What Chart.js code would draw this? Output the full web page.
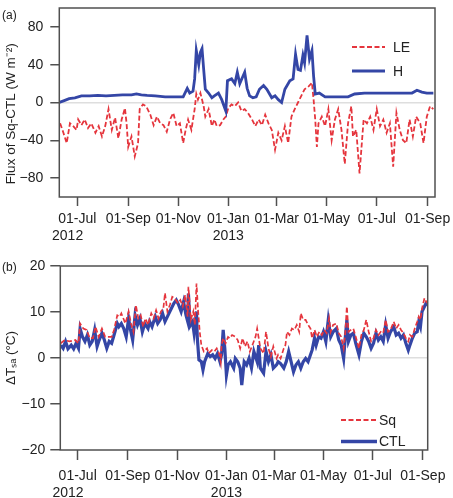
<!DOCTYPE html>
<html><head><meta charset="utf-8">
<script src="https://cdn.jsdelivr.net/npm/chart.js@4.4.0/dist/chart.umd.min.js"></script>
<style>
html,body{margin:0;padding:0;background:#fff;width:453px;height:498px;overflow:hidden}
.wrap{position:absolute;left:0;width:453px}
</style></head><body>
<div class="wrap" style="top:0;height:250px"><canvas id="ca" width="453" height="250"></canvas></div>
<div class="wrap" style="top:250px;height:248px"><canvas id="cb" width="453" height="248"></canvas></div>
<script>
// Day numbers counted from 2012-06-01 (day 0)
const tickDays = [30, 92, 153, 214, 273, 334, 395, 457];
const tickLabels = [["01-Jul","2012     "],["01-Sep"],["01-Nov"],["01-Jan","2013"],["01-Mar"],["01-May"],["01-Jul"],["01-Sep"]];
const fluxTicks = [-80, -40, 0, 40, 80];
const tempTicks = [-20, -10, 0, 10, 20];

// Panel (a): LE flux difference (Sq-CTL), W m-2
const leDays = [9,13,17,21,25,29,31,35,39,43,47,52,56,60,64,68,72,76,80,84,88,90,92,96,100,104,106,110,114,119,123,127,131,135,139,143,147,151,155,159,162,165,169,173,175,177,180,184,186,190,194,197,200,204,208,211,214,218,222,226,230,234,238,243,247,251,255,259,263,267,271,275,279,283,287,291,295,299,303,307,312,316,318,320,322,324,328,332,336,340,344,348,352,356,360,364,366,370,374,379,383,387,391,395,399,403,407,411,415,419,423,427,431,435,439,443,448,452,456,460,464];
const leVals = [-22,-32,-43,-22,-25,-29,-18,-24,-18,-27,-22,-32,-25,-36,-25,-7,-29,-16,-38,-18,-6,-22,-47,-36,-57,-43,-7,-2,-4,-13,-24,-15,-22,-24,-31,-18,-11,-25,-22,-43,-29,-18,-29,-7,9,3,10,-4,-15,-7,-25,-18,-25,-24,-18,-15,-6,-2,-4,0,-9,-7,-11,-18,-25,-18,-24,-13,-22,-29,-50,-32,-40,-25,-43,-15,-7,0,7,14,17,21,3,-18,-47,-22,-15,-25,-7,-40,-18,-7,-29,-65,-22,-4,-36,-29,-75,-18,-22,-15,-29,-7,-25,-18,-32,-22,-68,-11,-29,-40,-43,-18,-36,-15,-22,-43,-15,-4,-7];

// Panel (a): H flux difference (Sq-CTL), W m-2
const hDays = [8,14,20,27,35,45,55,65,75,85,96,102,108,115,125,137,150,159,164,167,171,173,175,178,180,182,184,186,190,194,197,202,206,211,213,218,222,225,228,232,234,237,240,244,248,252,257,261,267,271,275,279,283,289,293,296,299,302,305,307,310,313,316,318,320,325,332,340,350,360,368,380,395,410,425,438,444,450,456,464];
const hVals = [0,2,4,5,7,7,7.5,7,7.5,8,8,9,8,7.5,7,6,6,6,15,10,12,25,55,40,53,57,35,14,10,5,7,10,3,-9,23,25,20,32,20,28,32,15,7,5,6,14,18,14,5,7,3,0,14,23,25,51,35,34,50,42,71,46,55,28,9,10,6,6,6,6,9,10,10,10,10,10,13,11,10,10];

// Panel (b): Delta T_sa, Sq run (deg C)
const sqDays = [9,14,20,27,31,33,37,41,45,49,52,56,60,64,68,72,75,79,82,84,89,93,96,99,102,105,108,111,114,117,121,124,127,130,133,136,138,141,144,147,150,154,157,160,163,166,167,170,173,175,177,179,181,183,186,190,192,196,199,202,205,207,208,210,213,216,218,221,225,228,231,234,237,240,243,247,250,252,254,256,260,263,266,269,272,276,278,281,285,287,289,292,295,298,301,304,306,309,312,315,318,320,323,326,329,332,335,338,341,343,346,350,353,356,359,361,363,365,368,371,374,378,381,384,387,390,393,396,399,402,405,408,411,414,417,421,424,427,430,433,436,439,441,444,447,450,452,454,456,459,461,463];
const sqVals = [3.2,3.9,3.6,3.9,3.2,7.5,6.4,6.1,4.3,4.3,6.8,4.6,6.4,4.6,4.6,4.6,6.1,9.3,9.0,9.7,7.5,10.1,7.5,5.7,11.5,8.6,9.3,6.8,8.6,7.2,9.7,8.6,10.4,8.6,10.1,10.8,14.1,10.1,11.5,13.3,13.0,11.9,12.6,11.2,13.7,9.0,15.5,8.3,10.1,7.2,16.2,10.1,5.7,2.8,1.4,2.1,1.0,1.7,1.4,2.1,1.0,-1.0,2.8,4.3,3.2,4.6,4.3,5.0,4.6,3.9,2.1,4.3,2.5,3.6,1.4,3.2,4.6,6.4,4.3,2.1,1.0,5.7,2.1,0.3,2.5,-0.1,0.7,-0.1,2.1,2.8,5.7,5.0,6.4,6.1,7.2,5.7,9.7,8.3,8.3,7.2,6.4,4.3,6.1,4.6,5.7,5.0,6.1,5.4,8.6,5.7,7.2,7.5,5.4,4.6,2.1,5.4,11.2,5.7,6.1,6.4,4.6,2.1,5.0,6.1,8.3,5.7,3.6,4.3,6.1,5.0,5.7,5.4,8.3,5.7,6.1,7.9,6.4,7.2,6.1,5.4,4.3,3.6,5.0,4.6,6.4,7.9,9.0,8.3,10.8,13.0,12.3,11.9];

// Panel (b): Delta T_sa, CTL run (deg C)
const ctlDays = [9,12,15,18,22,25,28,31,33,36,39,42,45,48,51,54,56,60,63,66,69,72,75,79,81,84,87,90,93,95,98,101,104,107,110,113,117,119,122,126,129,132,135,138,141,144,146,149,152,155,158,161,164,166,167,169,172,174,177,178,180,183,185,187,191,194,197,200,203,206,208,210,212,214,216,219,223,225,228,231,233,236,239,242,245,248,252,254,256,260,263,266,269,272,276,278,281,285,288,291,294,297,300,303,306,309,312,315,318,320,323,325,328,331,334,337,340,343,346,350,353,356,359,361,363,365,368,371,374,378,381,384,387,390,393,396,399,402,405,408,411,414,417,421,424,427,430,433,436,439,441,444,447,450,452,454,456,459,461,463];
const ctlVals = [2.8,2.1,3.6,2.0,2.8,2.0,3.2,2.1,6.4,4.6,3.6,5.0,2.8,3.6,6.1,2.5,3.6,5.4,3.9,2.1,3.6,3.2,5.0,7.5,6.8,7.5,6.4,4.6,8.6,6.4,3.9,9.3,7.2,8.6,5.7,7.5,6.4,7.9,6.8,9.0,7.5,8.3,9.7,7.9,9.0,10.1,10.8,11.9,12.6,11.5,10.1,12.2,9.3,8.0,14.0,7.0,7.9,5.4,10.1,4.3,-0.4,-0.8,-2.6,-0.8,1.0,0.3,0.7,-0.1,1.0,-0.8,0.7,6.1,2.1,-3.7,-1.5,-0.8,-2.2,-0.1,-0.8,-2.2,-5.9,-0.8,-1.5,-0.1,-2.2,1.4,-0.8,2.8,-2.2,-3.3,1.4,-0.8,0.7,-2.2,-1.5,-0.8,-1.2,-2.2,-0.8,1.4,-0.8,-3.0,-1.5,-0.8,-2.2,-0.8,-0.1,-0.8,0.7,1.7,4.3,2.8,4.6,4.3,5.7,3.6,8.3,4.6,5.7,6.4,3.9,2.8,-0.1,4.3,8.3,3.6,5.0,5.4,3.2,0.7,3.6,5.4,4.6,3.6,2.1,3.2,5.4,3.9,4.6,3.6,7.2,4.3,5.7,6.8,5.0,5.4,4.3,5.0,3.2,1.7,2.8,4.3,5.4,5.7,7.9,6.8,10.1,11.2,11.9,11.5];

const FONT = '"Liberation Sans", Arial, Helvetica, sans-serif';
Chart.defaults.font.family = FONT;
Chart.defaults.color = '#222';

const RED = '#e5353d';
const BLUE = '#3446a6';
const FRAME = '#505050';

function pts(days, vals) { return days.map((d, i) => ({x: d, y: vals[i]})); }
function fmt(v) { return v < 0 ? '\u2212' + Math.abs(v) : String(v); }

const decor = {
  id: 'decor',
  afterDatasetsDraw(chart, args, o) {
    const ctx = chart.ctx, a = chart.chartArea;
    ctx.save();
    ctx.strokeStyle = FRAME; ctx.lineWidth = 1.5;
    ctx.strokeRect(a.left, a.top, a.right - a.left, a.bottom - a.top);
    ctx.fillStyle = '#222';
    ctx.textBaseline = 'middle'; ctx.textAlign = 'left';
    ctx.font = '12px ' + FONT;
    ctx.fillText(o.letter, o.letterX, o.letterY);
    o.order.forEach((i, k) => {
      const ds = chart.data.datasets[i];
      const y = o.legY[k];
      ctx.beginPath();
      ctx.strokeStyle = ds.borderColor;
      ctx.lineWidth = ds.borderWidth + (o.legExtra || 0);
      ctx.setLineDash(ds.borderDash || []);
      ctx.moveTo(o.legX1, y); ctx.lineTo(o.legX2, y); ctx.stroke();
      ctx.setLineDash([]);
      ctx.fillStyle = '#222';
      ctx.font = '14px ' + FONT;
      ctx.fillText(ds.label, o.legTextX, y + 1);
    });
    ctx.restore();
  }
};

function makeChart(id, cfg) {
  return new Chart(document.getElementById(id), {
    type: 'line',
    data: { datasets: cfg.datasets },
    options: {
      responsive: false, animation: false,
      layout: { padding: cfg.padding },
      elements: { point: { radius: 0 }, line: { tension: 0 } },
      plugins: { legend: { display: false }, tooltip: { enabled: false }, decor: cfg.decor },
      scales: {
        x: {
          type: 'linear', min: cfg.xmin, max: cfg.xmax,
          afterBuildTicks: ax => { ax.ticks = tickDays.map(v => ({value: v})); },
          afterFit: ax => { ax.height = cfg.xHeight; ax.paddingLeft = 0; ax.paddingRight = 0; },
          ticks: { autoSkip: false, maxRotation: 0, minRotation: 0, padding: cfg.xPad, font: { size: 14 }, color: '#222',
                   callback: v => tickLabels[tickDays.indexOf(v)] },
          grid: { drawOnChartArea: false, drawTicks: true, tickLength: cfg.xTick, tickColor: FRAME, tickWidth: 1.5, color: FRAME },
          border: { display: false }
        },
        y: {
          type: 'linear', min: cfg.ymin, max: cfg.ymax,
          afterBuildTicks: ax => { ax.ticks = cfg.yTicks.map(v => ({value: v})); },
          afterFit: ax => { ax.width = cfg.yWidth; ax.paddingTop = 0; ax.paddingBottom = 0; },
          ticks: { padding: cfg.yPad, font: { size: 14 }, color: '#222', callback: fmt },
          grid: { drawOnChartArea: true, drawTicks: true, tickLength: cfg.yTick, tickColor: FRAME, tickWidth: 1.5, lineWidth: 1.5,
                  color: c => (c.tick && c.tick.value === 0) ? '#dedede' : 'rgba(0,0,0,0)' },
          border: { display: false },
          title: { display: true, text: cfg.yTitle, font: { size: cfg.yTitleSize }, color: '#222', padding: { top: 3, bottom: 0 } }
        }
      }
    },
    plugins: [decor]
  });
}

makeChart('ca', {
  datasets: [
    { label: 'H', data: pts(hDays, hVals), borderColor: BLUE, borderWidth: 2.8 },
    { label: 'LE', data: pts(leDays, leVals), borderColor: RED, borderWidth: 1.8, borderDash: [5, 2.5] }
  ],
  padding: { top: 8, right: 18, left: 0, bottom: 0 },
  xmin: 8, xmax: 466, ymin: -100, ymax: 100, yTicks: fluxTicks,
  xHeight: 53, xPad: 5, xTick: 9, yWidth: 59.3, yPad: 7, yTick: 9,
  yTitle: 'Flux of Sq-CTL (W m\u207B\u00B2)      ', yTitleSize: 13.5,
  decor: { letter: '(a)', letterX: 2, letterY: 16, order: [1, 0], legY: [47, 71], legX1: 352, legX2: 385, legTextX: 393, legExtra: 0.2 }
});

makeChart('cb', {
  datasets: [
    { label: 'Sq', data: pts(sqDays, sqVals), borderColor: RED, borderWidth: 1.7, borderDash: [5, 2.5] },
    { label: 'CTL', data: pts(ctlDays, ctlVals), borderColor: BLUE, borderWidth: 3.2 }
  ],
  padding: { top: 16, right: 25.3, left: 0, bottom: 0 },
  xmin: 8.5, xmax: 463, ymin: -20, ymax: 20, yTicks: tempTicks,
  xHeight: 48, xPad: 8, xTick: 10, yWidth: 60.3, yPad: 5, yTick: 10,
  yTitle: '\u0394T\u209B\u2090 (\u00B0C)', yTitleSize: 13.5,
  decor: { letter: '(b)', letterX: 2, letterY: 18, order: [0, 1], legY: [170, 191.5], legX1: 341, legX2: 377, legTextX: 379, legExtra: 0.4 }
});
</script>
</body></html>
